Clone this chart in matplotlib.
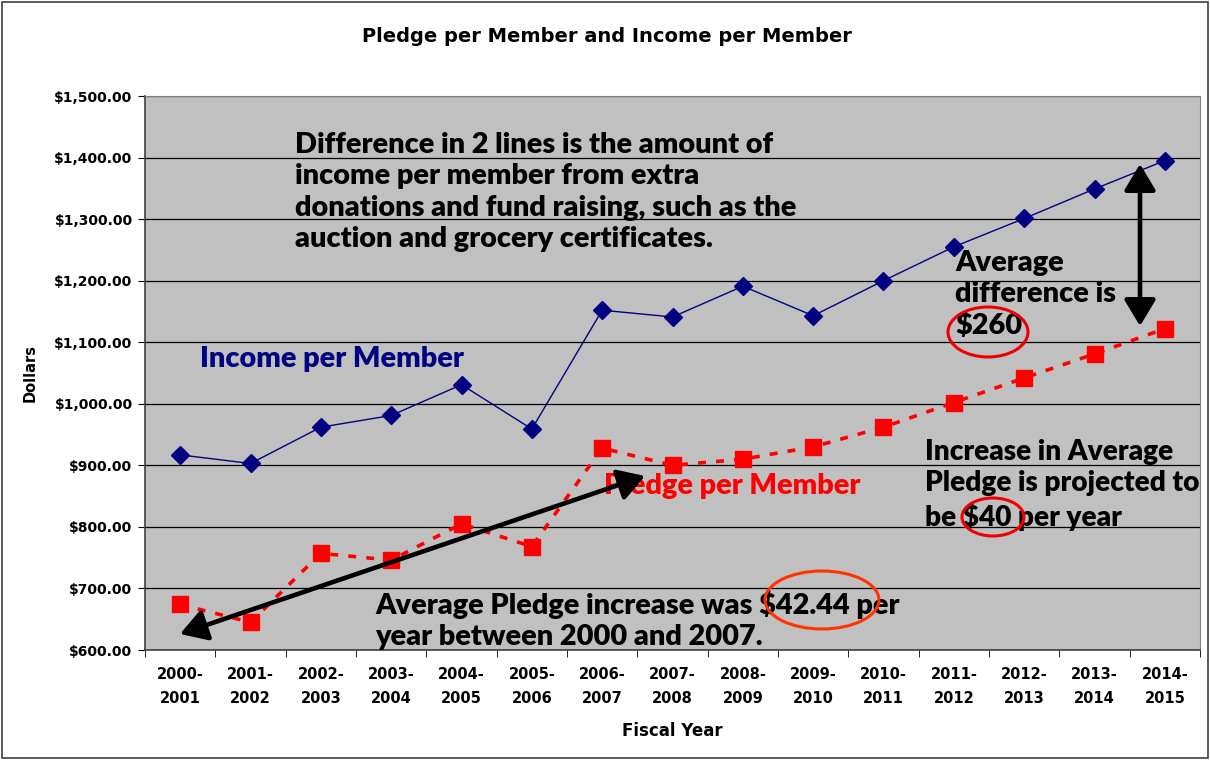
import matplotlib
matplotlib.use("Agg")
import matplotlib.pyplot as plt
from matplotlib.patches import Ellipse, Rectangle

years = ["2000-\n2001", "2001-\n2002", "2002-\n2003", "2003-\n2004", "2004-\n2005",
         "2005-\n2006", "2006-\n2007", "2007-\n2008", "2008-\n2009", "2009-\n2010",
         "2010-\n2011", "2011-\n2012", "2012-\n2013", "2013-\n2014", "2014-\n2015"]
income = [917, 903, 962, 981, 1031, 959, 1152, 1141, 1191, 1143, 1200, 1255, 1301, 1349, 1395]
pledge = [674, 645, 757, 746, 805, 768, 928, 900, 910, 930, 962, 1002, 1042, 1081, 1122]
yticks = [600, 700, 800, 900, 1000, 1100, 1200, 1300, 1400, 1500]

W, H = 1210, 760
fig = plt.figure(figsize=(12.1, 7.6), dpi=100)
L, R, T, B = 145, 1200, 96, 650
ax = fig.add_axes([L / W, 1 - B / H, (R - L) / W, (B - T) / H])
ax.set_facecolor("#c0c0c0")

AX_FONT = "DejaVu Sans"

x = list(range(len(years)))
ax.plot(x, income, color="#000080", lw=1.0, marker="D", markersize=9,
        markerfacecolor="#000080", markeredgecolor="#000080", zorder=4)
ax.plot(x, pledge, color="#ff0000", lw=2.6, linestyle=(0, (2.2, 2.8)), marker="s",
        markersize=11, markerfacecolor="#ff0000", markeredgecolor="#ff0000", zorder=4)

ax.set_xlim(-0.5, len(years) - 0.5)
ax.set_ylim(600, 1500)
ax.set_yticks(yticks)
ax.set_yticklabels([f"${v:,.2f}" for v in yticks], fontsize=10, fontweight="bold",
                   family=AX_FONT)
ax.set_xticks(x)
ax.set_xticklabels(years, fontsize=10.5, fontweight="bold", family=AX_FONT,
                   linespacing=1.75)
ax.set_xticks([i + 0.5 for i in range(-1, len(years))], minor=True)
ax.tick_params(axis="x", which="major", length=0, pad=12)
ax.tick_params(axis="x", which="minor", length=5, direction="out", color="black")
ax.tick_params(axis="y", length=5, direction="out", pad=4)
for s in ["top", "right"]:
    ax.spines[s].set_color("#808080")
for s in ["left", "bottom"]:
    ax.spines[s].set_color("#404040")
    ax.spines[s].set_linewidth(1.2)
ax.grid(axis="y", color="black", lw=0.9)
ax.set_axisbelow(True)

ax.set_ylabel("Dollars", fontsize=10.5, fontweight="bold", family=AX_FONT, labelpad=12)
ax.set_xlabel("Fiscal Year", fontsize=12, fontweight="bold", family=AX_FONT, labelpad=12)
fig.text(607 / W, 1 - 36 / H, "Pledge per Member and Income per Member",
         ha="center", va="center", fontsize=14, fontweight="bold", family=AX_FONT)


def px(xp, yp):
    return ((xp - L) / (R - L) * 15 - 0.5, 600 + (B - yp) / (B - T) * 900)


tf = dict(family="Lato", fontweight="heavy", fontsize=20.8, zorder=6, va="baseline", ha="left")
ax.text(*px(295, 247), "Difference in 2 lines is the amount of\nincome per member from extra\n"
        "donations and fund raising, such as the\nauction and grocery certificates.",
        color="black", linespacing=1.26, **tf)
ax.text(*px(200, 367), "Income per Member", color="#000080", **tf)
ax.text(*px(604, 494), "Pledge per Member", color="#ff0000", **tf)
ax.text(*px(955, 334), "Average\ndifference is\n$260", color="black", linespacing=1.24, **tf)
tf2 = dict(tf, fontsize=20.2)
ax.text(*px(925, 526), "Increase in Average\nPledge is projected to\nbe $40 per year",
        color="black", linespacing=1.26, **tf2)
ax.text(*px(375, 645), "Average Pledge increase was $42.44 per\nyear between 2000 and 2007.",
        color="black", linespacing=1.22, **tf)

# ellipses
for (cx, cy, w, h, c) in [(988, 332, 80, 50, "#ee0000"), (993, 517, 62, 38, "#ee0000"),
                          (822, 600, 114, 58, "#ff3300")]:
    cxd, cyd = px(cx, cy)
    wd = w / (R - L) * 15
    hd = h / (B - T) * 900
    ax.add_patch(Ellipse((cxd, cyd), wd, hd, fill=False, edgecolor=c, lw=2.2, zorder=7))

# arrows
astyle = "<|-|>,head_length=0.5,head_width=0.3"
ax.annotate("", xy=px(180, 634), xytext=px(645, 476),
            arrowprops=dict(arrowstyle=astyle, color="black",
                            lw=3.3, mutation_scale=32, shrinkA=0, shrinkB=0), zorder=7)
ax.annotate("", xy=px(1140, 164), xytext=px(1140, 326),
            arrowprops=dict(arrowstyle=astyle, color="black",
                            lw=3.3, mutation_scale=32, shrinkA=0, shrinkB=0), zorder=7)

fig.patches.append(Rectangle((2 / W, 2 / H), 1 - 4 / W, 1 - 4 / H, transform=fig.transFigure,
                             fill=False, edgecolor="#404040", lw=1.2))
fig.savefig("out.png", dpi=100)
